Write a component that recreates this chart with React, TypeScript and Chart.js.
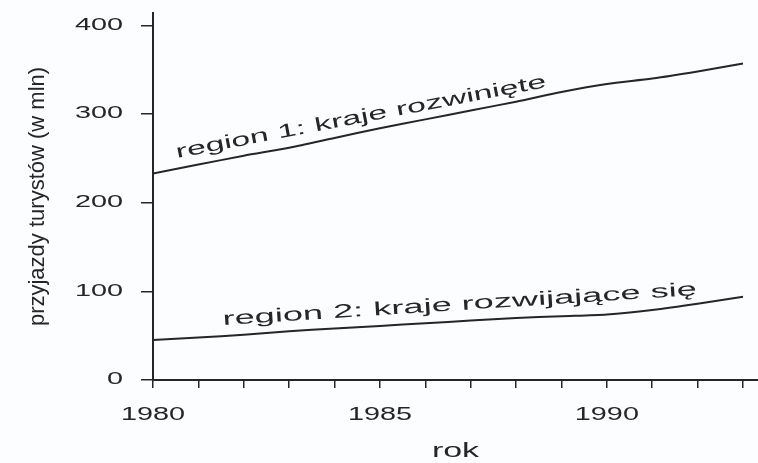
import React, { useEffect, useRef } from "react";
import { Chart, registerables } from "chart.js";

Chart.register(...registerables);

const years = [1980, 1981, 1982, 1983, 1984, 1985, 1986, 1987, 1988, 1989, 1990, 1991, 1992, 1993];
const region1 = [233, 243, 253, 262, 273, 284, 294, 304, 314, 325, 334, 340, 348, 357];
const region2 = [45, 48, 51, 55, 58, 61, 64, 67, 70, 72, 74, 79, 86, 94];
const yTickValues = [0, 100, 200, 300, 400];
const xLabelYears = [1980, 1985, 1990];
const label1 = "region 1: kraje rozwinięte";
const label2 = "region 2: kraje rozwijające się";
const yTitle = "przyjazdy turystów (w mln)";
const xTitle = "rok";

const INK = "#262626";
const FONT = '"Liberation Sans", Arial, sans-serif';

// Stretch text drawn by a scale method horizontally (the scan is widened).
function patchStretch(scale: any, key: string, sx: number) {
  const flag = "_patched_" + key;
  if (scale[flag]) return;
  const orig = scale[key].bind(scale);
  scale[key] = (...args: any[]) => {
    const ctx = scale.ctx;
    const protoFill = CanvasRenderingContext2D.prototype.fillText;
    ctx.fillText = function (text: string, x: number, y: number, maxW?: number) {
      this.save();
      this.translate(x, y);
      this.scale(sx, 1);
      if (maxW === undefined) protoFill.call(this, text, 0, 0);
      else protoFill.call(this, text, 0, 0, maxW / sx);
      this.restore();
    };
    try {
      orig(...args);
    } finally {
      delete ctx.fillText;
    }
  };
  scale[flag] = true;
}

const bgPlugin = {
  id: "bg",
  beforeDraw(chart: any) {
    const { ctx, width, height } = chart;
    ctx.save();
    ctx.fillStyle = "#fcfdfe";
    ctx.fillRect(0, 0, width, height);
    ctx.restore();
  },
};

function drawStretched(ctx: any, text: string, x0: number, y0: number, x1: number, y1: number, size: number) {
  ctx.save();
  ctx.font = `${size}px ${FONT}`;
  ctx.fillStyle = INK;
  ctx.textBaseline = "alphabetic";
  ctx.textAlign = "left";
  const w = ctx.measureText(text).width;
  const dx = x1 - x0;
  const dy = y1 - y0;
  const len = Math.hypot(dx, dy);
  ctx.translate(x0, y0);
  ctx.rotate(Math.atan2(dy, dx));
  ctx.scale(len / w, 1);
  ctx.fillText(text, 0, 0);
  ctx.restore();
}

const lineLabels = {
  id: "lineLabels",
  afterDatasetsDraw(chart: any) {
    const xs = chart.scales.x;
    const ys = chart.scales.y;
    const ctx = chart.ctx;
    drawStretched(
      ctx, label1,
      xs.getPixelForValue(1980.53), ys.getPixelForValue(250.4),
      xs.getPixelForValue(1988.68), ys.getPixelForValue(330.5), 19
    );
    drawStretched(
      ctx, label2,
      xs.getPixelForValue(1981.54), ys.getPixelForValue(62.0),
      xs.getPixelForValue(1991.99), ys.getPixelForValue(95.9), 19
    );
  },
};

export default function App() {
  const ref = useRef<HTMLCanvasElement>(null);

  useEffect(() => {
    if (!ref.current) return;
    const chart = new Chart(ref.current, {
      type: "line",
      data: {
        datasets: [
          {
            label: label1,
            data: years.map((yr, i) => ({ x: yr, y: region1[i] })),
            borderColor: INK,
            borderWidth: 2,
            pointRadius: 0,
            tension: 0.25,
            fill: false,
          },
          {
            label: label2,
            data: years.map((yr, i) => ({ x: yr, y: region2[i] })),
            borderColor: INK,
            borderWidth: 2,
            pointRadius: 0,
            tension: 0.25,
            fill: false,
          },
        ],
      },
      options: {
        animation: false,
        responsive: false,
        layout: { padding: { top: 13, left: 0, right: 0, bottom: 0 } },
        plugins: {
          legend: { display: false },
          tooltip: { enabled: false },
        },
        scales: {
          x: {
            type: "linear",
            min: 1980,
            max: 1993.33,
            offset: false,
            border: { display: true, color: INK, width: 2 },
            grid: { drawOnChartArea: false, drawTicks: true, tickLength: 8, color: INK, lineWidth: 1.5 },
            ticks: {
              autoSkip: false,
              maxRotation: 0,
              padding: 16,
              color: INK,
              font: { family: FONT, size: 18 },
              callback: (v: any) => (xLabelYears.includes(Number(v)) ? String(v) : ""),
            },
            title: {
              display: true,
              text: xTitle,
              color: INK,
              font: { family: FONT, size: 20 },
              padding: { top: 0, bottom: 0 },
            },
            afterBuildTicks: (scale: any) => {
              scale.ticks = years.map((v) => ({ value: v }));
            },
            afterFit: (scale: any) => {
              scale.height = 83;
              scale.paddingLeft = 0;
              scale.paddingRight = 0;
              patchStretch(scale, "drawLabels", 1.6);
              patchStretch(scale, "drawTitle", 1.7);
            },
          },
          y: {
            type: "linear",
            min: 0,
            max: 414,
            border: { display: true, color: INK, width: 2 },
            grid: { drawOnChartArea: false, drawTicks: true, tickLength: 12, color: INK, lineWidth: 1.5 },
            ticks: {
              padding: 18,
              color: INK,
              font: { family: FONT, size: 16 },
              callback: (v: any) => String(v),
            },
            title: {
              display: true,
              text: yTitle,
              color: INK,
              font: { family: FONT, size: 22 },
              padding: { top: 25, bottom: 0 },
            },
            afterBuildTicks: (scale: any) => {
              scale.ticks = yTickValues.map((v) => ({ value: v }));
            },
            afterFit: (scale: any) => {
              scale.width = 153;
              scale.paddingTop = 0;
              scale.paddingBottom = 0;
              patchStretch(scale, "drawLabels", 1.8);
            },
          },
        },
      },
      plugins: [bgPlugin, lineLabels],
    });
    return () => chart.destroy();
  }, []);

  return (
    <div style={{ position: "absolute", left: 0, top: 0, width: 758, height: 463 }}>
      <canvas ref={ref} width={758} height={463} style={{ display: "block" }} />
    </div>
  );
}
